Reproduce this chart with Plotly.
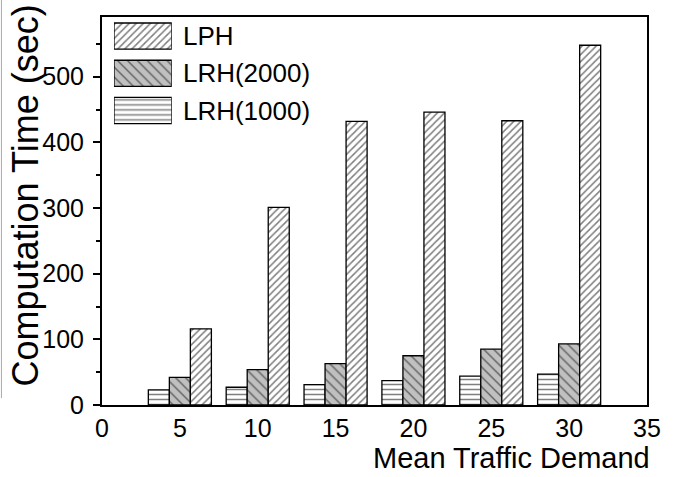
import plotly.graph_objects as go

demand = [5, 10, 15, 20, 25, 30]
lph = [116, 301, 432, 446, 433, 548]
lrh2000 = [42, 54, 63, 75, 85, 93]
lrh1000 = [23, 27, 31, 37, 44, 47]
series_names = ["LRH(1000)", "LRH(2000)", "LPH"]
y_ticks = [0, 100, 200, 300, 400, 500]
x_ticks = [0, 5, 10, 15, 20, 25, 30, 35]

FONT = "Liberation Sans, Arial, sans-serif"

styles = [
    dict(shape="-", bg="white", size=5, sol=0.3),
    dict(shape="\\", bg="#c0c0c0", size=7, sol=0.2),
    dict(shape="/", bg="white", size=5, sol=0.3),
]

fig = go.Figure()
for name, vals, st in zip(series_names, [lrh1000, lrh2000, lph], styles):
    pat = dict(shape=st["shape"], fgcolor="black", bgcolor=st["bg"],
               size=st["size"], solidity=st["sol"], fillmode="overlay")
    fig.add_trace(go.Bar(
        x=demand, y=vals, name=name, showlegend=False,
        marker=dict(color=st["bg"], line=dict(color="black", width=1.3),
                    pattern=pat),
    ))
    # legend swatch drawn on a small inset axis
    fig.add_trace(go.Bar(
        x=[1], y=[name], orientation="h", xaxis="x2", yaxis="y2",
        width=0.7, offset=-0.35, showlegend=False, hoverinfo="skip",
        marker=dict(color=st["bg"], line=dict(color="black", width=1.3),
                    pattern=pat),
    ))

fig.update_layout(
    width=674, height=477,
    margin=dict(l=102, r=27, t=17, b=72),
    paper_bgcolor="white", plot_bgcolor="white",
    barmode="group", bargap=0.19, bargroupgap=0,
    font=dict(family=FONT, size=26, color="black"),
    showlegend=False,
    xaxis=dict(range=[0, 35], tickvals=x_ticks, ticks="", showgrid=False,
               zeroline=False, showline=True, linecolor="black", linewidth=2,
               mirror=True, tickfont=dict(size=25)),
    yaxis=dict(range=[0, 591], tickvals=y_ticks, ticks="outside", ticklen=7,
               tickwidth=1.5, tickcolor="black", showgrid=False, zeroline=False,
               showline=True, linecolor="black", linewidth=2, mirror=True,
               tickfont=dict(size=25), ticklabelstandoff=4,
               minor=dict(dtick=50, ticks="outside", ticklen=4,
                          tickwidth=1.5, tickcolor="black", showgrid=False)),
    xaxis2=dict(domain=[0.022, 0.128], range=[0, 1], anchor="y2",
                visible=False, fixedrange=True),
    yaxis2=dict(domain=[0.711, 0.999], anchor="x2", type="category",
                categoryorder="array",
                categoryarray=series_names[::-1], autorange="reversed",
                side="right", showline=False, showgrid=False, zeroline=False,
                ticks="outside", ticklen=5, tickcolor="rgba(0,0,0,0)",
                tickfont=dict(size=26), fixedrange=True),
    annotations=[
        dict(text="Mean Traffic Demand", xref="paper", yref="paper",
             x=1.009, y=-0.183, xanchor="right", yanchor="bottom",
             showarrow=False, font=dict(size=29, family=FONT)),
        dict(text="Computation Time (sec)", xref="paper", yref="paper",
             x=-0.1413, y=0.54, xanchor="center", yanchor="middle",
             textangle=-90, showarrow=False,
             font=dict(size=36, family=FONT)),
    ],
    shapes=[
        dict(type="line", xref="paper", yref="paper", x0=-0.1845, x1=-0.1845,
             y0=1.05, y1=0.018, line=dict(color="#aaaaaa", width=1)),
    ],
)

fig.write_html("out.html", config={"displayModeBar": False},
               post_script="document.body.style.margin='0';")
